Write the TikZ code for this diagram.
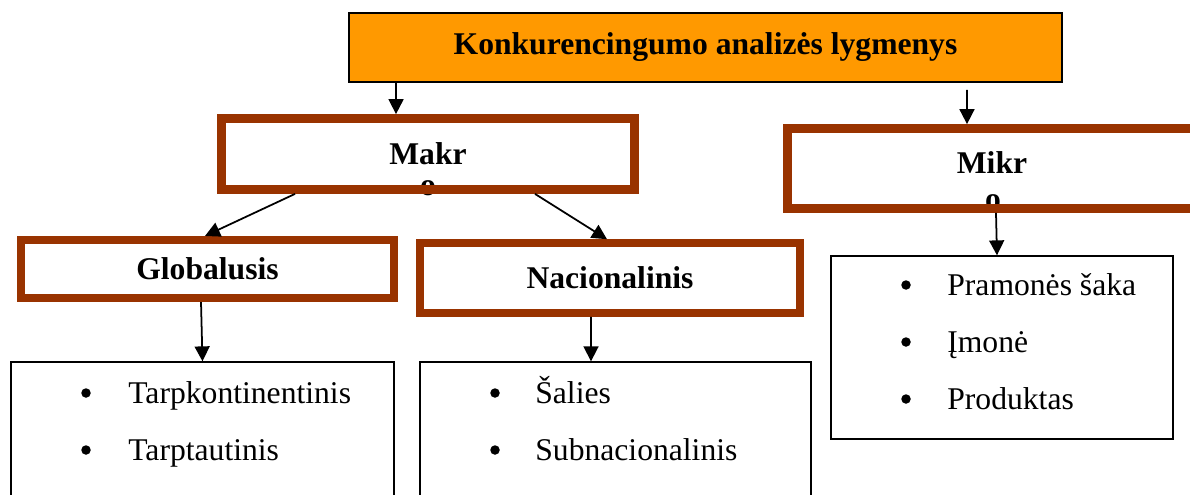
\documentclass[tikz,border=0pt]{standalone}
\usepackage{fontspec}
\setmainfont{Liberation Serif}
\usetikzlibrary{arrows.meta}

\begin{document}
\begin{tikzpicture}[x=0.02cm,y=-0.02cm,font=\fontsize{18}{21}\selectfont,
  arr/.style={-{Triangle[length=8.5pt,width=8.5pt]},line width=1pt},
  level/.style={draw=lvlbrown,line width=5pt,inner sep=0pt,font=\fontsize{18}{21}\selectfont\bfseries},
  listbox/.style={draw,line width=0.8pt,inner sep=0pt},
  dot/.style={circle,fill,inner sep=0pt,minimum size=0.19cm},
  item/.style={anchor=base west,inner sep=0pt}]
  \definecolor{lvlbrown}{HTML}{993300}
  \definecolor{topfill}{HTML}{FF9900}
  \clip (0,0) rectangle (1190,494);
  % top box
  \node[draw,fill=topfill,line width=1.1pt,minimum width=14.26cm,minimum height=1.38cm,
        font=\fontsize{18}{21}\selectfont\bfseries] (top) at (705.5,47.5) {Konkurencingumo analizės lygmenys};
  % the hidden "o" first, the frames go over it
  \node[inner sep=0pt,font=\fontsize{18}{21}\selectfont\bfseries] (makro) at (428,188) {o};
  \node[inner sep=0pt,font=\fontsize{18}{21}\selectfont\bfseries] (mikro) at (993,202) {o};
  \node[level,minimum width=8.26cm,minimum height=1.42cm] (makr) at (428,154) {Makr};
  \node[level,minimum width=8.18cm,minimum height=1.6cm,text depth=7pt] (mikr) at (992,168.5) {Mikr};
  \node[level,line width=4.3pt,minimum width=7.46cm,minimum height=1.17cm] (glob) at (207.5,269) {Globalusis};
  \node[level,line width=4.3pt,minimum width=7.6cm,minimum height=1.4cm] (nac) at (610,278) {Nacionalinis};
  % lists
  \node[listbox,minimum width=7.66cm,minimum height=3.16cm] (gl) at (202.5,441) {};
  \node[listbox,minimum width=7.82cm,minimum height=3.16cm] (nl) at (615.5,441) {};
  \node[listbox,minimum width=6.84cm,minimum height=3.66cm] (ml) at (1002,347.5) {};
  \foreach \i/\t in {1/Tarpkontinentinis,2/Tarptautinis} {
    \pgfmathsetmacro{\yb}{403+(\i-1)*57}
    \node[dot] (gb\i) at (86,\yb-10) {};
    \node[item] (gt\i) at (128,\yb) {\t};
  }
  \foreach \i/\t in {1/Šalies,2/Subnacionalinis} {
    \pgfmathsetmacro{\yb}{403+(\i-1)*57}
    \node[dot] (nb\i) at (495,\yb-10) {};
    \node[item] (nt\i) at (535,\yb) {\t};
  }
  \foreach \i/\t in {1/Pramonės šaka,2/Įmonė,3/Produktas} {
    \pgfmathsetmacro{\yb}{295+(\i-1)*57}
    \node[dot] (mb\i) at (906,\yb-10) {};
    \node[item] (mt\i) at (947,\yb) {\t};
  }
  % arrows
  \draw[arr] ([xshift=-6.19cm]top.south) -- ([xshift=-0.64cm]makr.north);
  \draw[arr,shorten <=4pt] ([xshift=5.23cm]top.south) -- ([xshift=-0.5cm]mikr.north);
  \draw[arr] ([xshift=-2.66cm]makr.south) -- ([xshift=-0.05cm]glob.north);
  \draw[arr] ([xshift=2.14cm]makr.south) -- ([xshift=-0.06cm]nac.north);
  \draw[arr] ([xshift=-0.13cm]glob.south) -- (gl.north);
  \draw[arr] ([xshift=-0.38cm]nac.south) -- ([xshift=-0.49cm]nl.north);
  \draw[arr] ([xshift=0.08cm]mikr.south) -- ([xshift=-0.1cm]ml.north);
\end{tikzpicture}
\end{document}
